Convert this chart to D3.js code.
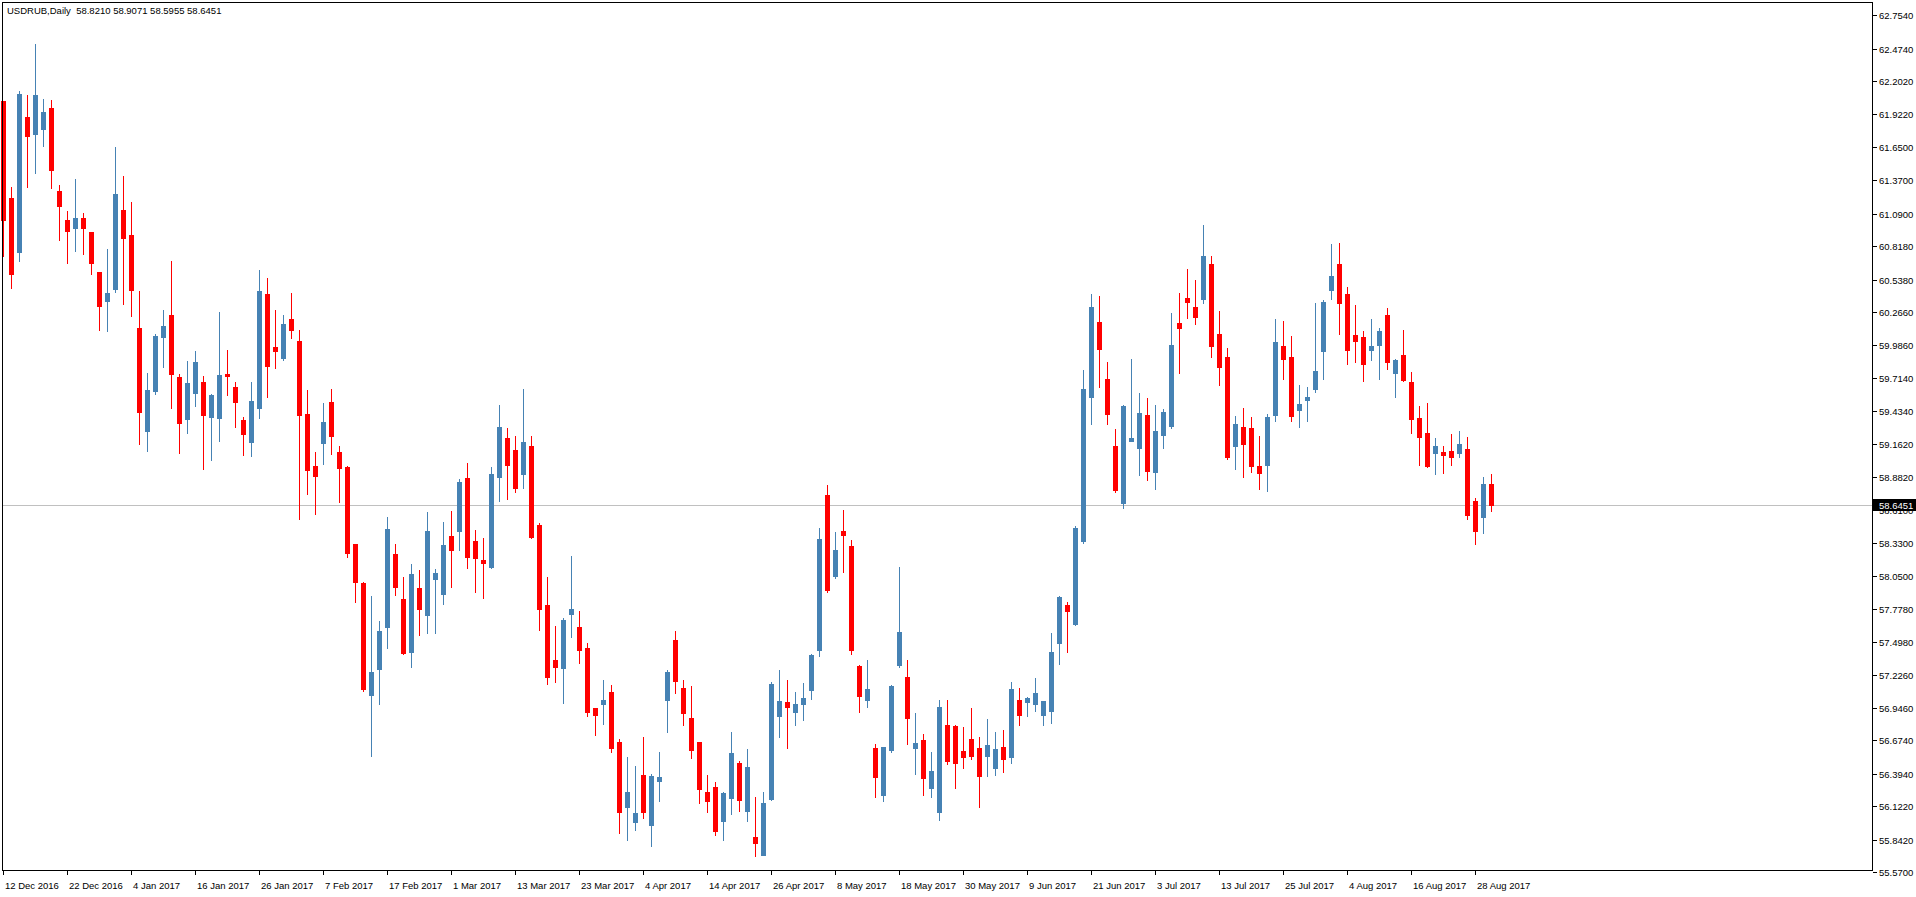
<!DOCTYPE html>
<html>
<head>
<meta charset="utf-8">
<script src="https://cdn.jsdelivr.net/npm/d3@7"></script>
<style>
  html, body { margin: 0; padding: 0; background: #ffffff; }
  svg { display: block; }
  text { font-family: "Liberation Sans", Arial, sans-serif; }
</style>
</head>
<body>
<svg id="chart" width="1916" height="897"></svg>
<script>
const symbolTitle = "USDRUB,Daily";
const lastBar = ["58.8210", "58.9071", "58.5955", "58.6451"];
const bidPrice = 58.6451;

const openValues = [62.035,61.221,60.768,61.900,61.757,61.800,61.976,61.280,61.037,60.970,61.054,60.936,60.601,60.358,60.459,61.121,60.911,60.132,59.268,59.604,
60.056,60.240,59.720,59.369,59.587,59.679,59.385,59.377,59.745,59.637,59.360,59.176,59.461,60.416,59.972,59.880,60.207,60.023,59.410,58.975,
59.168,59.511,59.092,58.966,58.320,57.994,57.055,57.274,57.625,58.237,57.860,57.415,57.952,57.726,58.028,57.901,58.388,58.430,58.874,58.346,
58.187,58.128,58.882,59.209,59.109,58.907,59.143,58.480,57.810,57.349,57.282,57.734,57.625,57.449,56.946,56.979,57.080,56.661,56.116,55.991,
56.385,55.966,56.335,57.013,57.516,57.114,56.863,56.661,56.242,56.284,56.000,56.192,56.485,56.083,55.865,55.714,56.184,56.880,56.996,56.913,
56.984,57.100,57.434,58.732,58.055,58.428,58.304,57.298,57.013,56.611,56.217,56.594,57.309,57.206,56.611,56.678,56.272,56.074,56.804,56.796,
56.586,56.687,56.611,56.547,56.445,56.619,56.538,57.013,56.999,56.984,56.888,56.924,57.494,57.810,57.651,58.346,59.553,60.182,59.704,59.143,
58.665,59.185,59.126,59.402,58.924,59.235,59.310,60.174,60.383,60.308,60.375,60.668,60.081,59.889,59.143,59.301,59.293,58.975,58.983,59.402,
59.981,59.889,59.444,59.528,59.621,59.939,60.450,60.668,60.416,60.073,60.056,59.947,59.989,60.240,59.754,59.905,59.679,59.377,59.251,59.084,
59.092,59.101,59.084,59.118,58.681,58.547,58.8210];

const highValues = [62.035,61.313,62.119,62.085,62.512,62.052,62.043,61.330,61.113,61.381,61.096,60.936,60.601,60.794,61.648,61.406,61.188,60.442,59.754,60.081,
60.282,60.694,59.745,59.855,59.939,59.729,59.578,60.265,59.947,59.679,59.385,59.679,60.618,60.551,60.282,60.240,60.425,60.115,59.612,59.092,
59.503,59.621,59.143,58.975,58.320,58.002,57.885,57.676,58.547,58.320,58.044,58.153,58.103,58.589,58.112,58.505,58.598,58.866,59.000,58.438,
58.371,58.966,59.486,59.293,59.226,59.621,59.226,58.497,58.044,57.634,57.701,58.221,57.760,57.491,56.946,57.181,57.139,56.687,56.535,56.460,
56.703,56.393,56.577,57.265,57.592,57.181,57.131,56.661,56.385,56.326,56.242,56.745,56.502,56.603,56.200,56.242,57.164,57.265,57.181,57.080,
57.156,57.399,58.455,58.816,58.421,58.606,58.354,57.307,57.349,56.645,56.619,57.142,58.128,57.349,56.905,56.728,56.577,57.013,57.013,56.804,
56.787,56.946,56.703,56.854,56.745,56.765,57.164,57.114,57.038,57.198,57.005,57.575,57.885,57.835,58.472,59.779,60.416,60.400,59.846,59.285,
59.486,59.872,59.587,59.545,59.486,59.453,60.257,60.425,60.626,60.534,60.995,60.735,60.274,59.964,59.394,59.461,59.385,59.226,59.411,60.207,
60.190,60.065,59.654,59.637,60.341,60.366,60.836,60.844,60.475,60.324,60.107,60.207,60.132,60.299,59.872,60.115,59.763,59.478,59.503,59.209,
59.143,59.243,59.268,59.218,58.707,58.883,58.9071];

const lowValues = [60.735,60.467,60.694,61.313,61.431,61.657,61.305,60.869,60.677,60.777,60.751,60.584,60.115,60.107,60.433,60.332,60.232,59.159,59.101,59.578,
59.804,59.461,59.084,59.251,59.478,58.950,59.025,59.185,59.570,59.301,59.067,59.059,59.377,59.553,59.796,59.863,60.048,58.531,58.740,58.572,
58.991,59.075,58.673,58.212,57.835,57.089,56.544,56.979,57.449,57.893,57.398,57.290,57.558,57.575,57.575,57.818,57.960,58.271,58.120,57.918,
57.868,58.120,58.682,58.699,58.757,58.790,58.371,57.600,57.147,57.164,56.988,57.541,57.324,56.880,56.720,56.812,56.577,55.899,55.840,55.924,
56.024,55.790,56.167,56.745,57.072,56.804,56.527,56.150,56.074,55.882,55.840,56.057,56.083,56.000,55.706,55.714,56.175,56.703,56.611,56.804,
56.848,57.020,57.386,57.921,58.038,58.088,57.402,56.915,56.958,56.200,56.170,56.575,57.293,56.646,56.396,56.217,56.200,56.008,56.477,56.277,
56.445,56.521,56.119,56.380,56.388,56.410,56.487,56.804,56.881,56.924,56.804,56.821,57.318,57.418,57.642,58.329,59.327,59.637,59.327,58.757,
58.623,59.185,58.899,58.857,58.782,59.126,59.293,59.754,60.216,60.165,60.341,59.889,59.654,59.034,58.950,58.882,58.925,58.782,58.765,59.352,
59.704,59.352,59.301,59.352,59.595,59.704,60.375,60.081,59.830,59.846,59.687,59.863,59.704,59.788,59.553,59.687,59.251,58.983,58.966,58.907,
58.916,58.983,59.050,58.531,58.320,58.413,58.5955];

const closeValues = [61.037,60.584,62.093,61.741,62.085,61.942,61.456,61.155,60.945,61.054,60.970,60.677,60.316,60.425,61.254,60.886,60.450,59.427,59.612,60.065,
60.149,59.745,59.335,59.671,59.846,59.402,59.570,59.737,59.729,59.511,59.242,59.520,60.442,59.813,59.939,60.165,60.115,59.402,58.941,58.891,
59.343,59.226,58.958,58.246,58.002,57.106,57.248,57.592,58.447,57.960,57.407,58.069,57.777,58.430,58.078,58.312,58.271,58.840,58.212,58.204,
58.162,58.907,59.301,58.983,58.790,59.176,58.379,57.777,57.206,57.290,57.684,57.777,57.432,56.913,56.888,57.013,56.611,56.074,56.242,56.066,
56.074,56.377,56.368,57.248,57.173,56.905,56.594,56.268,56.167,55.916,56.234,56.569,56.175,56.451,55.815,56.150,57.147,57.005,56.954,56.979,
57.028,57.394,58.363,57.938,58.271,58.400,57.434,57.048,57.106,56.371,56.619,57.131,57.583,56.864,56.653,56.363,56.418,56.955,56.505,56.487,
56.538,56.547,56.380,56.636,56.603,56.521,57.106,56.889,57.030,57.072,57.005,57.416,57.877,57.762,58.455,59.620,60.308,59.956,59.411,58.774,
59.478,59.209,59.419,58.933,59.268,59.427,59.989,60.132,60.350,60.224,60.735,59.981,59.804,59.050,59.327,59.159,58.975,58.916,59.385,60.014,
59.872,59.394,59.494,59.553,59.771,60.350,60.568,60.341,59.947,60.023,59.830,59.981,60.107,59.846,59.863,59.696,59.369,59.218,58.975,59.143,
59.067,59.050,59.159,58.564,58.430,58.824,58.6451];

const dateLabels = ["12 Dec 2016","22 Dec 2016","4 Jan 2017","16 Jan 2017","26 Jan 2017","7 Feb 2017","17 Feb 2017","1 Mar 2017",
"13 Mar 2017","23 Mar 2017","4 Apr 2017","14 Apr 2017","26 Apr 2017","8 May 2017","18 May 2017","30 May 2017","9 Jun 2017",
"21 Jun 2017","3 Jul 2017","13 Jul 2017","25 Jul 2017","4 Aug 2017","16 Aug 2017","28 Aug 2017"];
const barsPerDateLabel = 8;

const priceTicks = [62.7540,62.4740,62.2020,61.9220,61.6500,61.3700,61.0900,60.8180,60.5380,60.2660,59.9860,59.7140,59.4340,
59.1620,58.8820,58.6100,58.3300,58.0500,57.7780,57.4980,57.2260,56.9460,56.6740,56.3940,56.1220,55.8420,55.5700];

// ---- layout ----
const W = 1916, H = 897;
const frame = { left: 2, top: 2, right: 1872, bottom: 870 };
const BULL = "#4682B4", BEAR = "#FF0000";

const svg = d3.select("#chart");
svg.append("rect").attr("width", W).attr("height", H).attr("fill", "#ffffff");

const bars = openValues.map((o, i) => ({ i, o, h: highValues[i], l: lowValues[i], c: closeValues[i] }));

const x = d3.scaleLinear().domain([0, 1]).range([3.5, 11.5]);
const y = d3.scaleLinear().domain([55.57, 62.754]).range([872.2, 15.15]);

// bid line
const bidY = Math.round(y(bidPrice)) + 0.5;
svg.append("line")
  .attr("x1", frame.left + 1).attr("x2", frame.right)
  .attr("y1", bidY).attr("y2", bidY)
  .attr("stroke", "#c0c0c0").attr("stroke-width", 1);

// candles
const g = svg.append("g");
const candle = g.selectAll("g.c").data(bars).join("g").attr("class", "c");
candle.append("line")
  .attr("x1", d => x(d.i)).attr("x2", d => x(d.i))
  .attr("y1", d => Math.round(y(d.h)))
  .attr("y2", d => Math.round(y(d.l)) + 1)
  .attr("stroke", d => d.c >= d.o ? BULL : BEAR)
  .attr("stroke-width", 1);
candle.append("rect")
  .attr("x", d => x(d.i) - 2.5)
  .attr("width", 5)
  .attr("y", d => Math.round(y(Math.max(d.o, d.c))))
  .attr("height", d => Math.max(1, Math.round(y(Math.min(d.o, d.c))) - Math.round(y(Math.max(d.o, d.c))) + 1))
  .attr("fill", d => d.c >= d.o ? BULL : BEAR);

// frame
svg.append("rect")
  .attr("x", frame.left + 0.5).attr("y", frame.top + 0.5)
  .attr("width", frame.right - frame.left).attr("height", frame.bottom - frame.top)
  .attr("fill", "none").attr("stroke", "#000").attr("stroke-width", 1);

// right price axis
const yAxis = svg.append("g");
priceTicks.forEach(v => {
  const ty = Math.round(y(v)) + 0.5;
  yAxis.append("line").attr("x1", frame.right + 1).attr("x2", frame.right + 5)
    .attr("y1", ty).attr("y2", ty).attr("stroke", "#000");
  yAxis.append("text").attr("x", frame.right + 7).attr("y", ty)
    .attr("dy", "0.35em").attr("font-size", "9.5px").attr("fill", "#000")
    .text(d3.format(".4f")(v));
});

// bid label
svg.append("rect").attr("x", frame.right + 1).attr("y", bidY - 6.5)
  .attr("width", W - frame.right - 1).attr("height", 12).attr("fill", "#000");
svg.append("text").attr("x", frame.right + 7).attr("y", bidY)
  .attr("dy", "0.35em").attr("font-size", "9.5px").attr("fill", "#fff")
  .text(d3.format(".4f")(bidPrice));

// date axis
const xAxis = svg.append("g");
dateLabels.forEach((lab, k) => {
  const tx = x(k * barsPerDateLabel);
  xAxis.append("line").attr("x1", tx).attr("x2", tx)
    .attr("y1", frame.bottom + 1).attr("y2", frame.bottom + 5).attr("stroke", "#000");
  xAxis.append("text").attr("x", tx + 1.5).attr("y", frame.bottom + 19)
    .attr("font-size", "9.5px").attr("fill", "#000").text(lab);
});

// header
svg.append("text").attr("x", 7).attr("y", 14).attr("font-size", "9.5px").attr("fill", "#000")
  .attr("xml:space", "preserve")
  .text(symbolTitle + "  " + lastBar.join(" "));
</script>
</body>
</html>
